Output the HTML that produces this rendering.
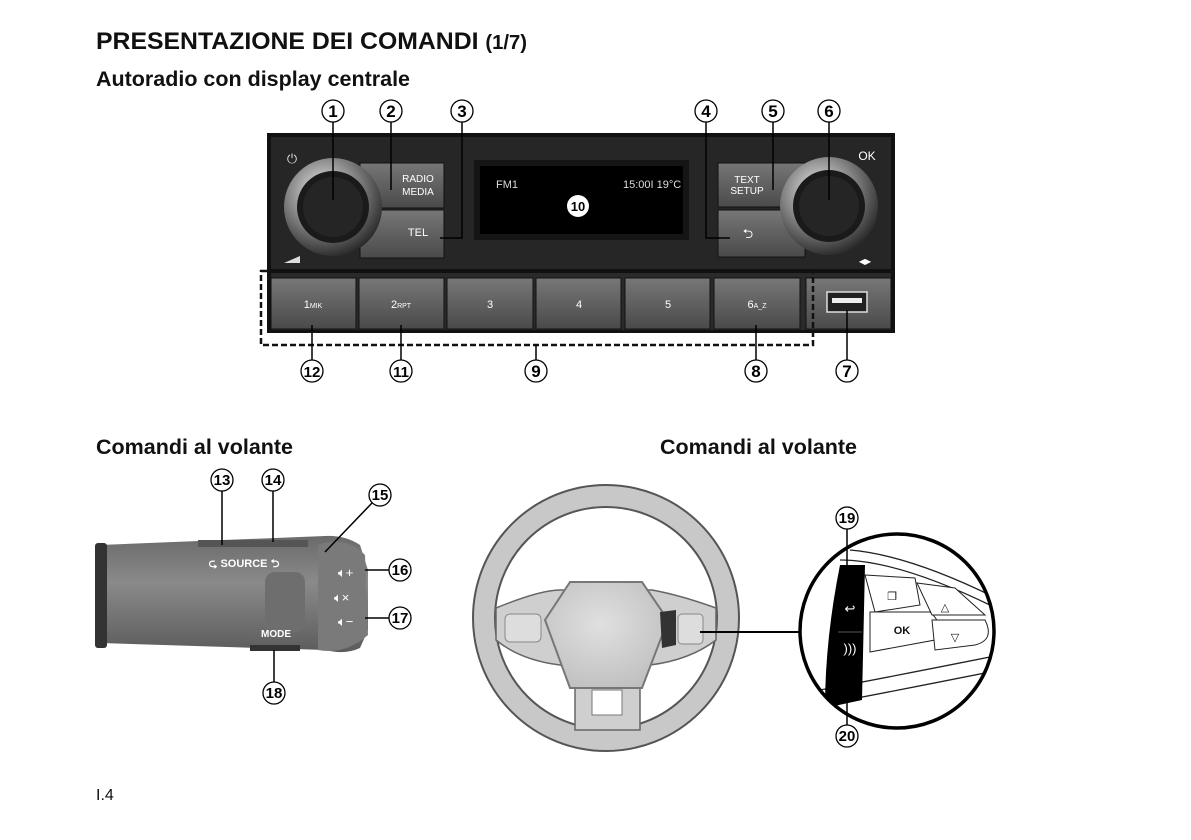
<!DOCTYPE html>
<html><head><meta charset="utf-8"><style>
html,body{margin:0;padding:0;background:#fff;}
svg{display:block;}
text{font-family:"Liberation Sans",Arial,sans-serif;}
</style></head><body>
<svg width="1191" height="840" viewBox="0 0 1191 840" xmlns="http://www.w3.org/2000/svg">
<defs>
<radialGradient id="knob" cx="0.4" cy="0.35" r="0.7"><stop offset="0" stop-color="#eee"/><stop offset="0.5" stop-color="#888"/><stop offset="1" stop-color="#222"/></radialGradient>
<linearGradient id="btn" x1="0" y1="0" x2="0" y2="1"><stop offset="0" stop-color="#777"/><stop offset="1" stop-color="#4a4a4a"/></linearGradient>
<linearGradient id="stalk" x1="0" y1="0" x2="0" y2="1"><stop offset="0" stop-color="#6a6a6a"/><stop offset="0.4" stop-color="#8a8a8a"/><stop offset="1" stop-color="#5c5c5c"/></linearGradient>
<radialGradient id="hub" cx="0.45" cy="0.4" r="0.7"><stop offset="0" stop-color="#e0e0e0"/><stop offset="1" stop-color="#bdbdbd"/></radialGradient>
<clipPath id="zc"><circle cx="897" cy="631" r="97"/></clipPath>
</defs>
<text x="96" y="49" font-size="24.5" font-weight="bold" fill="#111" textLength="431" lengthAdjust="spacingAndGlyphs">PRESENTAZIONE DEI COMANDI <tspan font-size="20">(1/7)</tspan></text>
<text x="96" y="86" font-size="21" font-weight="bold" fill="#111" textLength="314" lengthAdjust="spacingAndGlyphs">Autoradio con display centrale</text>
<text x="96" y="454" font-size="21" font-weight="bold" fill="#111" textLength="197" lengthAdjust="spacingAndGlyphs">Comandi al volante</text>
<text x="660" y="454" font-size="21" font-weight="bold" fill="#111" textLength="197" lengthAdjust="spacingAndGlyphs">Comandi al volante</text>
<text x="96" y="800" font-size="16" fill="#111">I.4</text>

<!-- RADIO -->
<rect x="267" y="133" width="628" height="200" fill="#111"/>
<rect x="271" y="137" width="620" height="132" fill="#262626"/>
<rect x="360" y="163" width="84" height="45" fill="url(#btn)" stroke="#111"/>
<rect x="360" y="210" width="84" height="48" fill="url(#btn)" stroke="#111"/>
<rect x="718" y="163" width="87" height="44" fill="url(#btn)" stroke="#111"/>
<rect x="718" y="210" width="87" height="47" fill="url(#btn)" stroke="#111"/>
<text x="418" y="182" font-size="10" fill="#fff" text-anchor="middle">RADIO</text>
<text x="418" y="195" font-size="10" fill="#fff" text-anchor="middle">MEDIA</text>
<text x="418" y="236" font-size="11" fill="#fff" text-anchor="middle">TEL</text>
<text x="747" y="183" font-size="10" fill="#fff" text-anchor="middle">TEXT</text>
<text x="747" y="194" font-size="10" fill="#fff" text-anchor="middle">SETUP</text>
<text x="748" y="238" font-size="13" fill="#fff" text-anchor="middle">⮌</text>
<circle cx="333" cy="207" r="49" fill="url(#knob)"/><circle cx="333" cy="207" r="36" fill="#1a1a1a"/><circle cx="333" cy="207" r="30" fill="#252525"/>
<circle cx="829" cy="206" r="49" fill="url(#knob)"/><circle cx="829" cy="206" r="36" fill="#1a1a1a"/><circle cx="829" cy="206" r="30" fill="#252525"/>
<text x="292" y="163" font-size="13" fill="#ddd" text-anchor="middle">⏻</text>
<text x="867" y="160" font-size="12" fill="#fff" text-anchor="middle">OK</text>
<text x="865" y="264" font-size="8" fill="#fff" text-anchor="middle">◀▶</text>
<polygon points="284,263 300,263 300,256" fill="#ddd"/>
<rect x="474" y="160" width="215" height="80" fill="#151515"/>
<rect x="480" y="166" width="203" height="68" fill="#000"/>
<text x="496" y="188" font-size="11" fill="#ddd">FM1</text>
<text x="623" y="188" font-size="11" fill="#ddd">15:00I 19°C</text>
<circle cx="578" cy="206" r="11" fill="#fff"/><text x="578" y="211" font-size="13" font-weight="bold" fill="#000" text-anchor="middle">10</text>
<rect x="271" y="273" width="620" height="57" fill="#2a2a2a"/>
<g fill="url(#btn)" stroke="#111">
<rect x="271" y="278" width="85" height="51"/><rect x="359" y="278" width="85" height="51"/><rect x="447" y="278" width="86" height="51"/><rect x="536" y="278" width="85" height="51"/><rect x="625" y="278" width="85" height="51"/><rect x="714" y="278" width="86" height="51"/><rect x="806" y="278" width="85" height="51"/>
</g>
<g font-size="11" fill="#fff" text-anchor="middle">
<text x="313" y="308">1<tspan font-size="7">MIK</tspan></text><text x="401" y="308">2<tspan font-size="7">RPT</tspan></text><text x="490" y="308">3</text><text x="579" y="308">4</text><text x="668" y="308">5</text><text x="757" y="308">6<tspan font-size="7">A_Z</tspan></text>
</g>
<rect x="827" y="292" width="40" height="20" fill="#222" stroke="#ddd" stroke-width="1.5"/>
<rect x="832" y="298" width="30" height="5" fill="#eee"/>
<rect x="261" y="271" width="552" height="74" fill="none" stroke="#111" stroke-width="2.5" stroke-dasharray="6,3"/>
<g stroke="#000" stroke-width="1.5" fill="none">
<line x1="333" y1="122" x2="333" y2="200"/><line x1="391" y1="122" x2="391" y2="190"/>
<polyline points="462,122 462,238 440,238"/><polyline points="706,122 706,238 730,238"/>
<line x1="773" y1="122" x2="773" y2="190"/><line x1="829" y1="122" x2="829" y2="200"/>
<line x1="312" y1="325" x2="312" y2="360"/><line x1="401" y1="325" x2="401" y2="360"/>
<line x1="536" y1="345" x2="536" y2="360"/><line x1="756" y1="325" x2="756" y2="360"/><line x1="847" y1="310" x2="847" y2="360"/>
</g>
<g stroke="#000" stroke-width="1.3" fill="#fff"><circle cx="333" cy="111" r="11"/><circle cx="391" cy="111" r="11"/><circle cx="462" cy="111" r="11"/><circle cx="706" cy="111" r="11"/><circle cx="773" cy="111" r="11"/><circle cx="829" cy="111" r="11"/><circle cx="312" cy="371" r="11"/><circle cx="401" cy="371" r="11"/><circle cx="536" cy="371" r="11"/><circle cx="756" cy="371" r="11"/><circle cx="847" cy="371" r="11"/></g>
<g font-size="17" font-weight="bold" fill="#000" text-anchor="middle">
<text x="333" y="117">1</text><text x="391" y="117">2</text><text x="462" y="117">3</text><text x="706" y="117">4</text><text x="773" y="117">5</text><text x="829" y="117">6</text>
<text x="312" y="377" font-size="15">12</text><text x="401" y="377" font-size="15">11</text><text x="536" y="377">9</text><text x="756" y="377">8</text><text x="847" y="377">7</text>
</g>

<!-- STALK -->
<path d="M100,545 L325,536 Q345,535 360,545 L368,570 L368,630 L360,648 Q345,655 325,650 L100,643 Z" fill="url(#stalk)"/>
<rect x="95" y="543" width="12" height="105" rx="3" fill="#333"/>
<rect x="198" y="540" width="110" height="7" fill="#555"/>
<path d="M318,545 Q345,535 365,555 L368,635 Q345,655 318,650 Z" fill="#7a7a7a"/>
<rect x="265" y="572" width="40" height="60" rx="10" fill="#6e6e6e"/>
<rect x="250" y="645" width="50" height="6" fill="#333"/>
<text x="244" y="567" font-size="11" font-weight="bold" fill="#fff" text-anchor="middle">⮎ SOURCE ⮌</text>
<text x="276" y="637" font-size="10" font-weight="bold" fill="#fff" text-anchor="middle">MODE</text>
<g font-size="13" fill="#fff"><text x="338" y="577">🔈︎+</text><text x="334" y="602">🔈︎×</text><text x="338" y="626">🔈︎−</text></g>
<g stroke="#000" stroke-width="1.5" fill="none">
<line x1="222" y1="491" x2="222" y2="545"/><line x1="273" y1="491" x2="273" y2="542"/><line x1="372" y1="503" x2="325" y2="552"/>
<line x1="365" y1="570" x2="389" y2="570"/><line x1="365" y1="618" x2="389" y2="618"/><line x1="274" y1="650" x2="274" y2="682"/>
</g>
<g stroke="#000" stroke-width="1.3" fill="#fff"><circle cx="222" cy="480" r="11"/><circle cx="273" cy="480" r="11"/><circle cx="380" cy="495" r="11"/><circle cx="400" cy="570" r="11"/><circle cx="400" cy="618" r="11"/><circle cx="274" cy="693" r="11"/></g>
<g font-size="15" font-weight="bold" fill="#000" text-anchor="middle"><text x="222" y="485">13</text><text x="273" y="485">14</text><text x="380" y="500">15</text><text x="400" y="575">16</text><text x="400" y="623">17</text><text x="274" y="698">18</text></g>

<!-- WHEEL -->
<circle cx="606" cy="618" r="122" fill="none" stroke="#555" stroke-width="24"/>
<circle cx="606" cy="618" r="122" fill="none" stroke="#c8c8c8" stroke-width="20"/>
<path d="M496,608 Q540,590 560,590 L652,590 Q680,595 716,608 L716,640 Q690,660 650,665 L640,670 L640,730 L575,730 L575,670 L560,665 Q520,660 496,640 Z" fill="#cfcfcf" stroke="#666" stroke-width="1.5"/>
<rect x="592" y="690" width="30" height="25" fill="#fff" stroke="#777"/>
<polygon points="570,582 642,582 668,620 642,688 570,688 545,620" fill="url(#hub)" stroke="#777" stroke-width="2"/>
<polygon points="660,612 676,610 676,645 662,648" fill="#333"/>
<g stroke="#888" fill="#ddd"><rect x="505" y="614" width="36" height="28" rx="5"/><rect x="678" y="614" width="25" height="30" rx="4"/></g>
<line x1="700" y1="632" x2="802" y2="632" stroke="#000" stroke-width="2"/>

<!-- ZOOM CIRCLE -->
<g clip-path="url(#zc)">
<rect x="795" y="530" width="210" height="210" fill="#fff"/>
<g stroke="#222" stroke-width="1.3" fill="none">
<path d="M840,560 Q900,560 1000,610"/><path d="M850,550 Q910,555 1000,600"/><path d="M820,705 Q900,690 1000,670"/><path d="M820,690 Q900,675 1000,655"/>
</g>
<path d="M840,565 L865,565 L862,700 L825,708 Q825,640 840,565 Z" fill="#000"/>
<line x1="838" y1="632" x2="862" y2="632" stroke="#555"/>
<text x="850" y="613" font-size="13" fill="#fff" text-anchor="middle">↩</text>
<text x="850" y="653" font-size="13" fill="#fff" text-anchor="middle">)))</text>
<path d="M865,575 L915,578 L920,605 L875,612 Z" fill="#fff" stroke="#222"/>
<path d="M870,612 L930,612 Q945,625 935,640 L870,652 Z" fill="#fff" stroke="#222"/>
<text x="902" y="634" font-size="11" font-weight="bold" fill="#111" text-anchor="middle">OK</text>
<path d="M917,583 L955,588 L985,615 L932,615 Z" fill="#fff" stroke="#222"/>
<path d="M932,620 L985,620 Q995,640 975,645 L935,650 Z" fill="#fff" stroke="#222"/>
<text x="945" y="611" font-size="11" fill="#111" text-anchor="middle">△</text>
<text x="955" y="641" font-size="11" fill="#111" text-anchor="middle">▽</text>
<text x="892" y="600" font-size="11" fill="#111" text-anchor="middle">❐</text>
</g>
<circle cx="897" cy="631" r="97" fill="none" stroke="#000" stroke-width="3.5"/>
<g stroke="#000" stroke-width="1.5"><line x1="847" y1="529" x2="847" y2="585"/><line x1="847" y1="665" x2="847" y2="725"/></g>
<g stroke="#000" stroke-width="1.3" fill="#fff"><circle cx="847" cy="518" r="11"/><circle cx="847" cy="736" r="11"/></g>
<g font-size="15" font-weight="bold" fill="#000" text-anchor="middle"><text x="847" y="523">19</text><text x="847" y="741">20</text></g>
</svg>
</body></html>
